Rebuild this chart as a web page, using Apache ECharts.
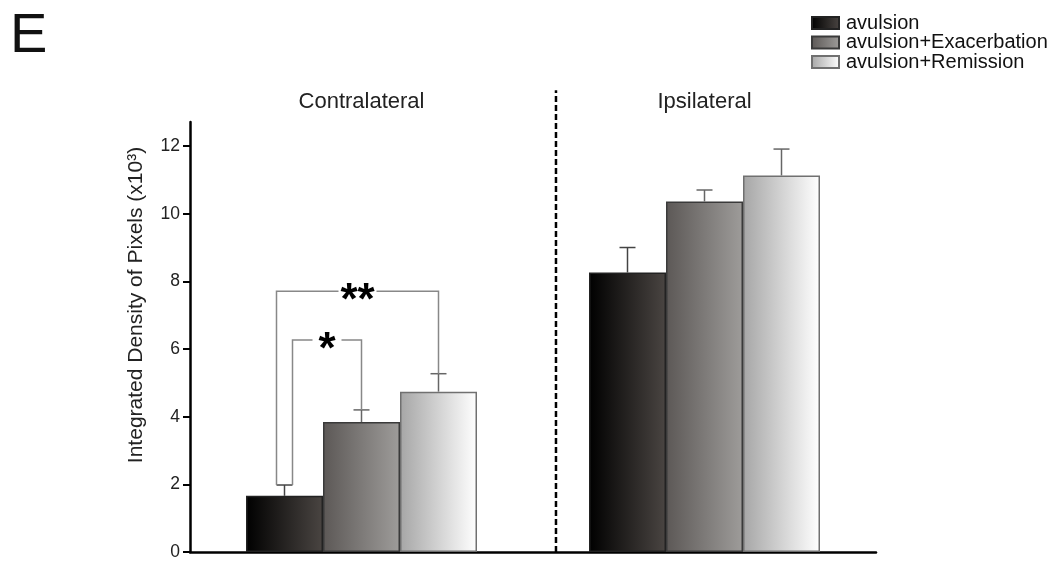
<!DOCTYPE html>
<html>
<head>
<meta charset="utf-8">
<script src="https://cdn.jsdelivr.net/npm/echarts@6/dist/echarts.min.js"></script>
<style>html,body{margin:0;padding:0;background:#fff;}#c{width:1056px;height:561px;}</style>
</head>
<body>
<div id="c"></div>
<script>
// ---- data ----
var categories = ['Contralateral', 'Ipsilateral'];
var seriesNames = ['avulsion', 'avulsion+Exacerbation', 'avulsion+Remission'];
var avulsion = [1.66, 8.26];
var avulsionErr = [0.32, 0.74];
var exacerbation = [3.84, 10.36];
var exacerbationErr = [0.36, 0.34];
var remission = [4.74, 11.13];
var remissionErr = [0.53, 0.78];
var yTicks = [0, 2, 4, 6, 8, 10, 12];
// significance brackets: [category, fromSeries, toSeries, level, label]
var brackets = [[0, 0, 2, 7.71, '**'], [0, 0, 1, 6.27, '*']];
// divider between the two groups (offset from first category centre, in category bands)
var dividerPos = [0.567];

var values = [avulsion, exacerbation, remission];
var errors = [avulsionErr, exacerbationErr, remissionErr];

var BAR_W = 77, CAP = 16;
var FONT = '"Liberation Sans", Arial, sans-serif';

function grad(c1, c2) {
  return new echarts.graphic.LinearGradient(0, 0, 1, 0, [{offset: 0, color: c1}, {offset: 1, color: c2}]);
}
var fills = [grad('#000000', '#4a4542'), grad('#5c5856', '#9e9c9a'), grad('#a6a6a6', '#ffffff')];
var borders = ['#222222', '#3a3a3a', '#707070'];

var chart = echarts.init(document.getElementById('c'), null, {renderer: 'canvas'});

function barX(api, cat, s) {
  return api.coord([cat, 0])[0] + (s - 1) * BAR_W;
}

var series = [];
for (var s = 0; s < 3; s++) {
  series.push({
    name: seriesNames[s], type: 'bar', data: values[s],
    barWidth: BAR_W, barGap: '0%',
    itemStyle: {color: fills[s], borderColor: borders[s], borderWidth: 1.5},
    emphasis: {disabled: true}, animation: false, z: 2
  });
}

// error bars
var errData = [];
for (var s2 = 0; s2 < 3; s2++) {
  for (var c = 0; c < categories.length; c++) {
    errData.push([c, values[s2][c], errors[s2][c], s2]);
  }
}
series.push({
  type: 'custom', data: errData, animation: false, z: 3, silent: true,
  renderItem: function (params, api) {
    var cat = api.value(0), v = api.value(1), e = api.value(2), s = api.value(3);
    var x = barX(api, cat, s);
    var y0 = api.coord([cat, v])[1], y1 = api.coord([cat, v + e])[1];
    var col = s === 0 ? '#444' : '#666';
    return {type: 'group', children: [
      {type: 'line', shape: {x1: x, y1: y0, x2: x, y2: y1}, style: {stroke: col, lineWidth: 1.5}},
      {type: 'line', shape: {x1: x - CAP / 2, y1: y1, x2: x + CAP / 2, y2: y1}, style: {stroke: col, lineWidth: 1.5}}
    ]};
  }
});

// brackets
series.push({
  type: 'custom', data: brackets, animation: false, z: 4, silent: true,
  renderItem: function (params, api) {
    var b = brackets[params.dataIndex];
    var cat = b[0], f = b[1], t = b[2], lvl = b[3], lab = b[4];
    var xf = barX(api, cat, f) + (t === 2 ? -CAP / 2 : CAP / 2);
    var xt = barX(api, cat, t);
    var yf = api.coord([cat, values[f][cat] + errors[f][cat]])[1];
    var yt = api.coord([cat, values[t][cat] + errors[t][cat]])[1];
    var yl = api.coord([cat, lvl])[1];
    var half = 10 + lab.length * 4.5;
    return {type: 'group', children: [
      {type: 'polyline', shape: {points: [[xf, yf], [xf, yl], [xt, yl], [xt, yt]]}, style: {stroke: '#888', lineWidth: 1.5, fill: null}},
      {type: 'rect', shape: {x: (xf + xt) / 2 - half, y: yl - 4, width: 2 * half, height: 8}, style: {fill: '#fff'}},
      {type: 'text', x: (xf + xt) / 2, y: yl + 11, style: {text: lab, font: 'bold 44px ' + FONT, fill: '#000', align: 'center', verticalAlign: 'middle'}}
    ]};
  }
});

// divider
series.push({
  type: 'custom', data: [[0, 0]], animation: false, z: 1, silent: true, clip: false,
  renderItem: function (params, api) {
    var base = api.coord([0, 0]);
    var band = api.size([1, 0])[0];
    var x = base[0] + band * dividerPos[0];
    var yt = api.coord([0, 13.65])[1];
    return {type: 'line', shape: {x1: x, y1: base[1], x2: x, y2: yt}, style: {stroke: '#000', lineWidth: 2.5, lineDash: [6, 3]}};
  }
});

chart.setOption({
  animation: false,
  backgroundColor: '#fff',
  title: {text: 'E', left: 5, top: 4, textStyle: {fontFamily: FONT, fontSize: 56, fontWeight: 'normal', color: '#111'}},
  legend: {
    data: seriesNames, orient: 'vertical', left: 811, top: 13, icon: 'rect',
    itemWidth: 27, itemHeight: 12, itemGap: -0.5, padding: 0, selectedMode: false,
    textStyle: {fontFamily: FONT, fontSize: 20, color: '#111', padding: [0, 0, 0, 2]}
  },
  grid: {left: 190, right: 180, top: 122, bottom: 8.5, containLabel: false},
  xAxis: [
    {type: 'category', data: categories, position: 'bottom',
      axisLine: {lineStyle: {color: '#000', width: 2.5}}, axisTick: {show: false}, axisLabel: {show: false}},
    {type: 'category', data: categories, position: 'top',
      axisLine: {show: false}, axisTick: {show: false},
      axisLabel: {margin: 9, fontFamily: FONT, fontSize: 22, color: '#222'}}
  ],
  yAxis: {
    type: 'value', min: 0, max: 12.71, interval: 2,
    splitLine: {show: false},
    axisLine: {show: true, lineStyle: {color: '#000', width: 2.5}},
    axisTick: {show: true, length: 7, lineStyle: {color: '#000', width: 2}, customValues: yTicks},
    axisLabel: {margin: 10, fontFamily: FONT, fontSize: 17.5, color: '#222', customValues: yTicks}
  },
  graphic: [{
    type: 'text', x: 136, y: 305, rotation: Math.PI / 2,
    style: {text: 'Integrated Density of Pixels (x10³)', font: '21px ' + FONT, fill: '#222', align: 'center', verticalAlign: 'middle'}
  }],
  series: series
});
</script>
</body>
</html>
